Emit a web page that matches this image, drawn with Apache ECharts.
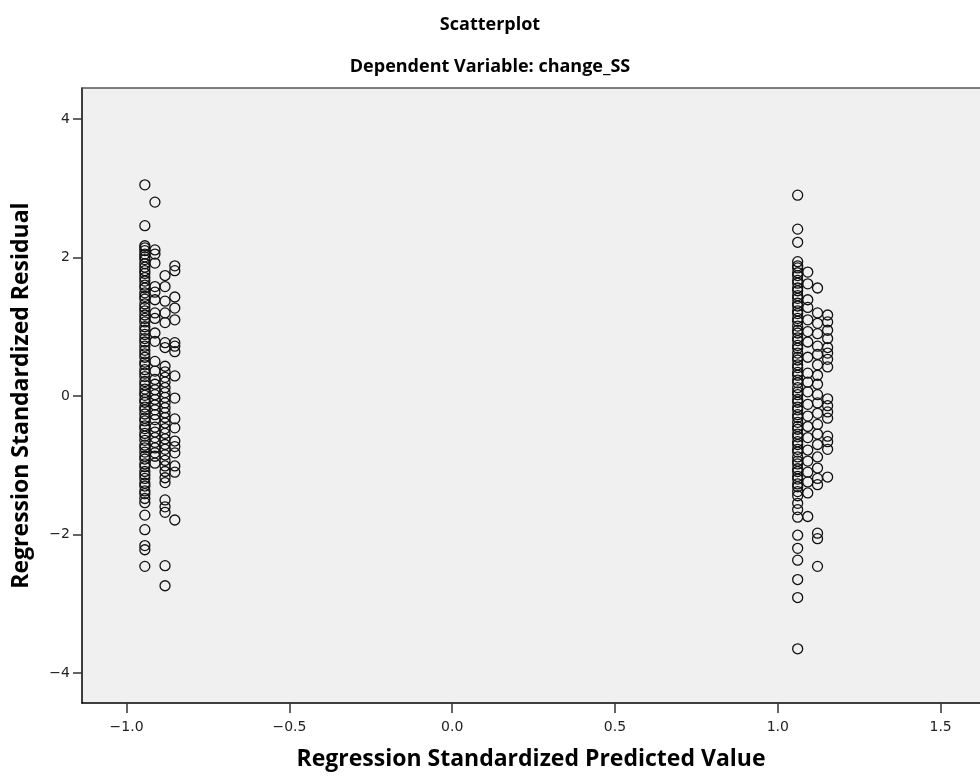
<!DOCTYPE html>
<html>
<head>
<meta charset="utf-8">
<script src="https://cdn.jsdelivr.net/npm/echarts@6/dist/echarts.min.js"></script>
<style>
html,body{margin:0;padding:0;background:#fff;}
#chart{width:980px;height:776px;}
</style>
</head>
<body>
<div id="chart"></div>
<script>
// Predicted value levels (x) and standardized residuals (y) per level
const predLevels = [-0.944, -0.913, -0.882, -0.852, 1.061, 1.092, 1.122, 1.153];

const resLeftA = [3.05, 2.46, 2.17, 2.14, 2.10, 2.05, 2.01, 1.97, 1.91, 1.86, 1.81, 1.77, 1.71, 1.66, 1.60, 1.56, 1.49, 1.44, 1.40, 1.33, 1.28, 1.23, 1.17, 1.12, 1.07, 1.00, 0.95, 0.89, 0.83, 0.78, 0.72, 0.66, 0.61, 0.56, 0.49, 0.45, 0.38, 0.33, 0.28, 0.21, 0.16, 0.10, 0.05, 0.01, -0.05, -0.09, -0.16, -0.20, -0.26, -0.32, -0.36, -0.43, -0.47, -0.54, -0.58, -0.64, -0.71, -0.75, -0.81, -0.87, -0.91, -0.98, -1.02, -1.09, -1.14, -1.19, -1.26, -1.30, -1.37, -1.41, -1.48, -1.54, -1.72, -1.93, -2.16, -2.22, -2.46];
const resLeftB = [2.80, 2.11, 2.05, 1.92, 1.58, 1.50, 1.39, 1.20, 1.12, 0.91, 0.79, 0.50, 0.36, 0.24, 0.17, 0.09, 0.02, -0.05, -0.13, -0.20, -0.27, -0.34, -0.45, -0.52, -0.60, -0.67, -0.75, -0.82, -0.87, -0.97];
const resLeftC = [1.74, 1.58, 1.37, 1.20, 1.06, 0.77, 0.70, 0.43, 0.35, 0.27, 0.20, 0.12, 0.05, -0.02, -0.10, -0.17, -0.24, -0.31, -0.39, -0.47, -0.54, -0.62, -0.70, -0.77, -0.85, -0.93, -1.01, -1.09, -1.18, -1.25, -1.50, -1.60, -1.68, -2.45, -2.74];
const resLeftD = [1.88, 1.81, 1.43, 1.27, 1.10, 0.77, 0.72, 0.64, 0.29, -0.03, -0.33, -0.46, -0.65, -0.73, -0.82, -1.01, -1.10, -1.79];

const resRightA = [2.90, 2.41, 2.22, 1.94, 1.88, 1.85, 1.78, 1.74, 1.67, 1.63, 1.56, 1.52, 1.45, 1.41, 1.34, 1.30, 1.23, 1.19, 1.12, 1.08, 1.01, 0.95, 0.91, 0.84, 0.80, 0.73, 0.69, 0.62, 0.56, 0.52, 0.45, 0.41, 0.34, 0.30, 0.23, 0.19, 0.12, 0.06, 0.02, -0.05, -0.09, -0.16, -0.20, -0.27, -0.31, -0.38, -0.44, -0.48, -0.55, -0.59, -0.66, -0.70, -0.77, -0.81, -0.88, -0.94, -0.98, -1.05, -1.09, -1.16, -1.20, -1.27, -1.31, -1.38, -1.44, -1.55, -1.64, -1.75, -2.01, -2.20, -2.37, -2.65, -2.91, -3.65];
const resRightB = [1.79, 1.62, 1.39, 1.28, 1.10, 0.93, 0.78, 0.56, 0.33, 0.20, 0.06, -0.12, -0.29, -0.44, -0.60, -0.78, -0.94, -1.10, -1.24, -1.40, -1.74];
const resRightC = [1.56, 1.20, 1.05, 0.90, 0.72, 0.60, 0.45, 0.30, 0.17, 0.02, -0.10, -0.25, -0.41, -0.55, -0.70, -0.88, -1.04, -1.19, -1.28, -1.98, -2.06, -2.46];
const resRightD = [1.17, 1.07, 0.95, 0.83, 0.70, 0.62, 0.53, 0.42, -0.04, -0.14, -0.23, -0.32, -0.58, -0.66, -0.77, -1.17];

const xTickValues = [-1.0, -0.5, 0.0, 0.5, 1.0, 1.5];
const yTickValues = [-4, -2, 0, 2, 4];

const titleText = 'Scatterplot';
const subtitleText = 'Dependent Variable: change_SS';
const xAxisTitle = 'Regression Standardized Predicted Value';
const yAxisTitle = 'Regression Standardized Residual';

const groups = [resLeftA, resLeftB, resLeftC, resLeftD, resRightA, resRightB, resRightC, resRightD];
const points = [];
groups.forEach((arr, i) => arr.forEach(v => points.push([predLevels[i], v])));

const minus = s => s.replace('-', '\u2212');
const X_MIN = -1.137, X_MAX = 1.621;

const chart = echarts.init(document.getElementById('chart'), null, {renderer: 'canvas'});
chart.setOption({
  animation: false,
  backgroundColor: '#ffffff',
  title: [
    {text: titleText, left: 'center', top: 11,
     textStyle: {fontFamily: 'Open Sans', fontWeight: 'bold', fontSize: 18, color: '#000'}},
    {text: subtitleText, left: 'center', top: 53,
     textStyle: {fontFamily: 'Open Sans', fontWeight: 'bold', fontSize: 18, color: '#000'}}
  ],
  grid: {left: 82, right: 0, top: 88, bottom: 73, show: true,
         backgroundColor: '#f0f0f0', borderWidth: 0},
  xAxis: [{
    type: 'value', min: X_MIN, max: X_MAX,
    name: xAxisTitle, nameLocation: 'middle', nameGap: 45,
    nameTextStyle: {fontFamily: 'Open Sans', fontWeight: 'bold', fontSize: 23, color: '#000'},
    axisLine: {show: true, onZero: false, lineStyle: {color: '#000', width: 1.5}},
    axisTick: {show: true, length: 10, customValues: xTickValues, lineStyle: {color: '#333', width: 1.5}},
    axisLabel: {customValues: xTickValues, margin: 17, fontFamily: 'DejaVu Sans', fontSize: 14, color: '#222',
                formatter: v => minus(Number(v).toFixed(1))},
    splitLine: {show: false}
  }, {
    type: 'value', min: X_MIN, max: X_MAX, position: 'top',
    axisLine: {show: true, onZero: false, lineStyle: {color: '#555', width: 1.5}},
    axisTick: {show: false}, axisLabel: {show: false}, splitLine: {show: false}
  }],
  yAxis: {
    type: 'value', min: -4.433, max: 4.448,
    name: yAxisTitle, nameLocation: 'middle', nameGap: 49, nameRotate: 90,
    nameTextStyle: {fontFamily: 'Open Sans', fontWeight: 'bold', fontSize: 23, color: '#000'},
    axisLine: {show: true, onZero: false, lineStyle: {color: '#000', width: 1.5}},
    axisTick: {show: true, length: 9, customValues: yTickValues, lineStyle: {color: '#333', width: 1.5}},
    axisLabel: {customValues: yTickValues, margin: 12, fontFamily: 'DejaVu Sans', fontSize: 14, color: '#222',
                formatter: v => minus(String(Math.round(v)))},
    splitLine: {show: false}
  },
  series: [{
    type: 'scatter',
    data: points,
    xAxisIndex: 0,
    symbol: 'circle',
    symbolSize: 10,
    itemStyle: {color: 'rgba(0,0,0,0)', borderColor: '#111', borderWidth: 1.3, opacity: 1},
    emphasis: {disabled: true}
  }]
});
</script>
</body>
</html>
